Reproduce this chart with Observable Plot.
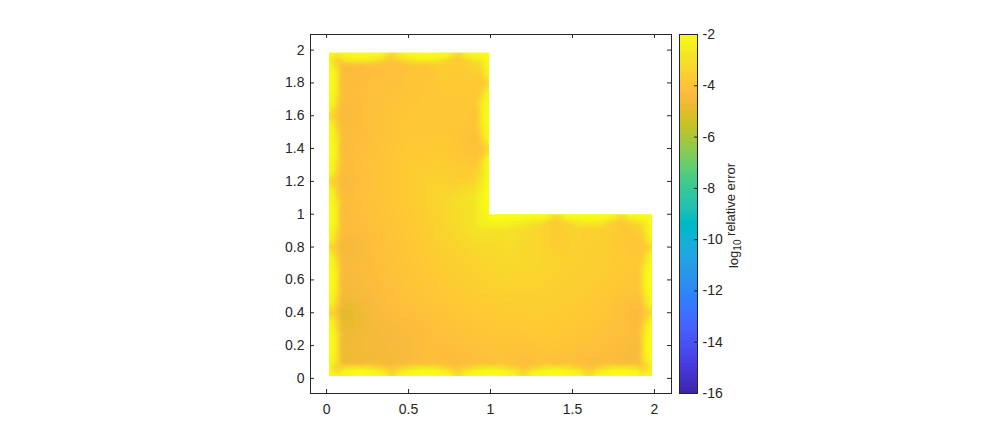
<!DOCTYPE html>
<html>
<head>
<meta charset="utf-8">
<script src="https://cdn.jsdelivr.net/npm/d3@7"></script>
<script src="https://cdn.jsdelivr.net/npm/@observablehq/plot@0.6"></script>
<style>
  html, body { margin: 0; padding: 0; background: #fff; }
  #wrap { position: relative; width: 996px; height: 443px; }
  #wrap svg { position: absolute; left: 0; top: 0; }
</style>
</head>
<body>
<div id="wrap"></div>
<script>
// ---------- tick labels ----------
const xTicks = [0, 0.5, 1, 1.5, 2];
const yTicks = [0, 0.2, 0.4, 0.6, 0.8, 1, 1.2, 1.4, 1.6, 1.8, 2];
const cbTicks = [-16, -14, -12, -10, -8, -6, -4, -2];
const cbDomain = [-16, -2];
const cbLabel = ["log", "10", " relative error"];

// ---------- geometry of the L-shaped domain (data units) ----------
const extent = [0.015, 1.985];      // coloured region of the square
const reentrant = [0.995, 0.997];   // x of upper-arm right edge, y of lower-arm top edge

// ---------- interior samples: log10 relative error ----------
const lowerX = [0.1, 0.3, 0.5, 0.7, 0.9, 1.1, 1.3, 1.5, 1.7, 1.9];
const lowerY = [0.1, 0.3, 0.5, 0.7, 0.9];
const lowerV = [
  [-4.8, -4.6, -4.4, -4.3, -4.2, -4.1, -4.1, -4.2, -4.3, -4.5],
  [-4.8, -4.5, -4.3, -4.1, -3.9, -3.8, -3.7, -3.8, -4.0, -4.3],
  [-4.6, -4.3, -4.0, -3.8, -3.6, -3.5, -3.5, -3.6, -3.8, -4.1],
  [-4.4, -4.2, -3.9, -3.6, -3.4, -3.2, -3.3, -3.5, -3.6, -3.8],
  [-4.3, -4.1, -3.8, -3.4, -2.9, -2.9, -3.3, -3.4, -3.5, -3.6]
];
const upperX = [0.1, 0.3, 0.5, 0.7, 0.9];
const upperY = [1.1, 1.3, 1.5, 1.7, 1.9];
const upperV = [
  [-4.3, -4.0, -3.7, -3.3, -2.8],
  [-4.3, -4.0, -3.7, -3.6, -3.8],
  [-4.3, -4.1, -3.8, -3.8, -4.1],
  [-4.3, -4.1, -3.9, -3.8, -3.8],
  [-4.4, -4.2, -4.0, -3.6, -3.4]
];
// around the re-entrant corner (1, 1)
const cornerX = [0.95, 1.05, 1.10, 1.15, 1.20, 1.25, 1.05, 1.10, 1.15, 1.20, 1.25,
                 0.970, 0.970, 0.970, 0.970, 0.970, 0.945, 0.945, 0.945, 0.945, 0.945];
const cornerY = [0.95, 0.972, 0.972, 0.972, 0.972, 0.972, 0.947, 0.947, 0.947, 0.947, 0.947,
                 1.05, 1.10, 1.15, 1.20, 1.25, 1.05, 1.10, 1.15, 1.20, 1.25];
const cornerV = [-2.4, -2.0, -2.0, -2.0, -2.1, -2.2, -2.2, -2.3, -2.4, -2.6, -2.9,
                 -2.0, -2.0, -2.0, -2.1, -2.3, -2.2, -2.3, -2.5, -2.7, -3.0];
// outer corners of the L
const outerCornerX = [0.015, 1.985, 1.985, 0.995, 0.995, 0.015];
const outerCornerY = [0.015, 0.015, 0.997, 0.997, 1.985, 1.985];
const outerCornerV = [-2.0, -2.0, -2.0, -2.0, -2.0, -2.0];

// ---------- boundary layer: yellow arcs on each boundary panel (length 0.4) ----------
const panelLength = 0.4;
const profileStep = 0.05;               // spacing of the profile samples along a panel
const layerDepth = [0, 0.025, 0.05];    // distance inside the boundary
const arcOuter = [-3.0, -2.0, -2.0, -2.0, -2.0, -2.0, -2.0, -2.0];
const arcMid   = [-3.7, -2.5, -2.2, -2.1, -2.0, -2.1, -2.2, -2.5];
const arcInner = [-4.0, -3.6, -3.0, -2.6, -2.4, -2.6, -3.0, -3.6];
// values just inside the arcs (depth 0.07), every 0.1 along each edge
const backDepth = 0.07;
const backStep = 0.1;
const backBottom = [-4.7, -4.6, -4.5, -4.5, -4.3, -4.2, -4.2, -4.3, -4.2, -4.1, -4.1, -4.2, -4.1, -4.1, -4.1, -4.3, -4.3, -4.4, -4.5];
const backRight = [-4.5, -4.4, -4.3, -4.4, -4.1, -3.9, -3.8, -3.9, -3.6];
const backLowerTop = [-3.6, -3.8, -3.6, -3.5, -3.5, -3.7, -3.3, -3.0, -2.7];
const backUpperRight = [-2.7, -3.0, -3.7, -4.1, -4.1, -3.9, -3.7, -3.7, -3.5];
const backTop = [-3.5, -3.7, -3.7, -3.9, -4.0, -4.2, -4.2, -4.3, -4.4];
const backLeft = [-4.4, -4.3, -4.3, -4.4, -4.3, -4.3, -4.3, -4.4, -4.3, -4.3, -4.3, -4.6, -4.5, -4.5, -4.6, -5.0, -4.8, -4.7, -4.7];
const backValues = [backBottom, backRight, backLowerTop, backUpperRight, backTop, backLeft];

// boundary edges, walked counter-clockwise from (0,0)
const edgeStartS = [0, 2, 3, 4, 5, 6];
const edgeLength = [2, 1, 1, 1, 1, 2];
const edgeFrom   = [[0, 0], [2, 0], [2, 1], [1, 1], [1, 2], [0, 2]];
const edgeDir    = [[1, 0], [0, 1], [-1, 0], [0, 1], [-1, 0], [0, -1]];
const edgeNormal = [[0, 1], [-1, 0], [0, -1], [-1, 0], [0, -1], [1, 0]];
const edgeLine   = [extent[0], extent[1], reentrant[1], reentrant[0], extent[1], extent[0]];
const edgeProfileRange = [[0, 2], [0, 1], [0, 0.72], [0.28, 1], [0, 1], [0, 2]];

// ---------- parula colormap ----------
const parula = [
[0.2422,0.1504,0.6603],[0.2504,0.1650,0.7076],[0.2578,0.1818,0.7511],[0.2647,0.1978,0.7952],
[0.2706,0.2147,0.8364],[0.2751,0.2342,0.8710],[0.2783,0.2559,0.8991],[0.2803,0.2782,0.9221],
[0.2813,0.3006,0.9414],[0.2810,0.3228,0.9579],[0.2795,0.3447,0.9717],[0.2760,0.3667,0.9829],
[0.2699,0.3892,0.9906],[0.2602,0.4123,0.9952],[0.2440,0.4358,0.9988],[0.2206,0.4603,0.9973],
[0.1963,0.4847,0.9892],[0.1834,0.5074,0.9798],[0.1786,0.5289,0.9682],[0.1764,0.5499,0.9520],
[0.1687,0.5703,0.9359],[0.1540,0.5902,0.9218],[0.1460,0.6091,0.9079],[0.1380,0.6276,0.8973],
[0.1248,0.6459,0.8883],[0.1113,0.6635,0.8763],[0.0952,0.6798,0.8598],[0.0689,0.6948,0.8394],
[0.0297,0.7082,0.8163],[0.0036,0.7203,0.7917],[0.0067,0.7312,0.7660],[0.0433,0.7411,0.7394],
[0.0964,0.7500,0.7120],[0.1408,0.7584,0.6842],[0.1717,0.7670,0.6554],[0.1938,0.7758,0.6251],
[0.2161,0.7843,0.5923],[0.2470,0.7918,0.5567],[0.2906,0.7973,0.5188],[0.3406,0.8008,0.4789],
[0.3909,0.8029,0.4354],[0.4456,0.8024,0.3909],[0.5044,0.7993,0.3480],[0.5616,0.7942,0.3045],
[0.6174,0.7876,0.2612],[0.6720,0.7793,0.2227],[0.7242,0.7698,0.1910],[0.7738,0.7598,0.1646],
[0.8203,0.7498,0.1535],[0.8634,0.7406,0.1596],[0.9035,0.7330,0.1774],[0.9393,0.7288,0.2100],
[0.9728,0.7298,0.2394],[0.9956,0.7434,0.2371],[0.9970,0.7659,0.2199],[0.9952,0.7893,0.2028],
[0.9892,0.8136,0.1885],[0.9786,0.8386,0.1766],[0.9676,0.8639,0.1643],[0.9610,0.8890,0.1537],
[0.9597,0.9135,0.1423],[0.9628,0.9373,0.1265],[0.9691,0.9606,0.1064],[0.9769,0.9839,0.0805]
];
const parulaInterp = d3.piecewise(d3.interpolateRgb, parula.map(([r, g, b]) => d3.rgb(r * 255, g * 255, b * 255).formatHex()));

// ---------- build the sample table ----------
const samples = [];
lowerY.forEach((y, i) => lowerX.forEach((x, j) => samples.push({x, y, v: lowerV[i][j]})));
upperY.forEach((y, i) => upperX.forEach((x, j) => samples.push({x, y, v: upperV[i][j]})));
cornerX.forEach((x, i) => samples.push({x, y: cornerY[i], v: cornerV[i]}));
outerCornerX.forEach((x, i) => samples.push({x, y: outerCornerY[i], v: outerCornerV[i]}));
const arcProfile = [arcOuter, arcMid, arcInner];
const perPanel = Math.round(panelLength / profileStep);
function edgePoint(e, t, d) {
  let x = edgeFrom[e][0] + edgeDir[e][0] * t;
  let y = edgeFrom[e][1] + edgeDir[e][1] * t;
  if (edgeDir[e][0] === 0) x = edgeLine[e] + edgeNormal[e][0] * d;
  else y = edgeLine[e] + edgeNormal[e][1] * d;
  return [x, y];
}
const inRange = (e, t) => t >= edgeProfileRange[e][0] && t <= edgeProfileRange[e][1];
edgeStartS.forEach((s0, e) => {
  const n = Math.round(edgeLength[e] / profileStep);
  for (let k = 1; k < n; ++k) {
    const t = k * profileStep;
    const idx = Math.round((s0 + t) / profileStep) % perPanel;
    layerDepth.forEach((d, l) => {
      if (d > 0 && !inRange(e, t)) return;
      const [x, y] = edgePoint(e, t, d);
      samples.push({x, y, v: arcProfile[l][idx]});
    });
  }
  backValues[e].forEach((v, k) => {
    const t = (k + 1) * backStep;
    if (!inRange(e, t)) return;
    const [x, y] = edgePoint(e, t, backDepth);
    samples.push({x, y, v});
  });
});
// the missing quadrant of the L
const notch = [{x1: reentrant[0], x2: 2.0, y1: reentrant[1], y2: 2.0}];

// ---------- layout ----------
const W = 996, H = 443;
const mTop = 34, mBottom = 50, mLeft = 310, mRight = 325;
const frameW = W - mLeft - mRight, frameH = H - mTop - mBottom;
const ink = "#262626";
const font = "'Liberation Sans', Arial, Helvetica, sans-serif";
const tick = 4;

const colorScale = {type: "linear", domain: cbDomain, interpolate: parulaInterp, clamp: true};

const main = Plot.plot({
  width: W, height: H,
  marginTop: mTop, marginBottom: mBottom, marginLeft: mLeft, marginRight: mRight,
  x: {domain: [-0.098, 2.104]},
  y: {domain: [-0.092, 2.095]},
  color: colorScale,
  style: {fontFamily: font, fontSize: "14px", color: ink, background: "transparent"},
  marks: [
    Plot.raster(samples, {x: "x", y: "y", fill: "v", interpolate: "barycentric", blur: 1.5,
      x1: extent[0], x2: extent[1], y1: extent[0], y2: extent[1]}),
    Plot.rect(notch, {x1: "x1", x2: "x2", y1: "y1", y2: "y2", fill: "white"}),
    Plot.frame({stroke: ink, strokeWidth: 1}),
    Plot.tickX(xTicks, {x: d => d, stroke: ink, insetTop: frameH - tick}),
    Plot.tickX(xTicks, {x: d => d, stroke: ink, insetBottom: frameH - tick}),
    Plot.tickY(yTicks, {y: d => d, stroke: ink, insetRight: frameW - tick}),
    Plot.tickY(yTicks, {y: d => d, stroke: ink, insetLeft: frameW - tick}),
    Plot.axisX(xTicks, {anchor: "bottom", tickSize: 0, tickPadding: 11, tickFormat: d => String(d), fill: ink}),
    Plot.axisY(yTicks, {anchor: "left", tickSize: 0, tickPadding: 6, tickFormat: d => String(d), fill: ink})
  ]
});

// ---------- colorbar ----------
const cbLeft = 679, cbRight = 697;
const cbW = cbRight - cbLeft;
const bar = Plot.plot({
  width: W, height: H,
  marginTop: mTop, marginBottom: mBottom, marginLeft: cbLeft, marginRight: W - cbRight,
  x: {domain: [0, 1], axis: null},
  y: {domain: cbDomain},
  color: colorScale,
  style: {fontFamily: font, fontSize: "14px", color: ink, background: "transparent"},
  marks: [
    Plot.raster({fill: (x, y) => y, x1: 0, x2: 1, y1: cbDomain[0], y2: cbDomain[1], pixelSize: 1}),
    Plot.frame({stroke: ink, strokeWidth: 1}),
    Plot.tickY(cbTicks, {y: d => d, stroke: ink, insetLeft: cbW - 3}),
    Plot.axisY(cbTicks, {anchor: "right", tickSize: 0, tickPadding: 5, tickFormat: d => String(d), fill: ink})
  ]
});

const wrap = document.getElementById("wrap");
wrap.appendChild(main);
wrap.appendChild(bar);

// colorbar title with subscript
const svg = d3.select(bar);
const t = svg.append("text")
  .attr("transform", `translate(738, ${(mTop + H - mBottom) / 2 + 2}) rotate(-90)`)
  .attr("text-anchor", "middle")
  .attr("fill", ink)
  .style("font-family", font)
  .style("font-size", "13px");
t.append("tspan").text(cbLabel[0]);
t.append("tspan").attr("baseline-shift", "-30%").style("font-size", "10px").text(cbLabel[1]);
t.append("tspan").attr("dy", "-3").text(cbLabel[2]);
</script>
</body>
</html>
